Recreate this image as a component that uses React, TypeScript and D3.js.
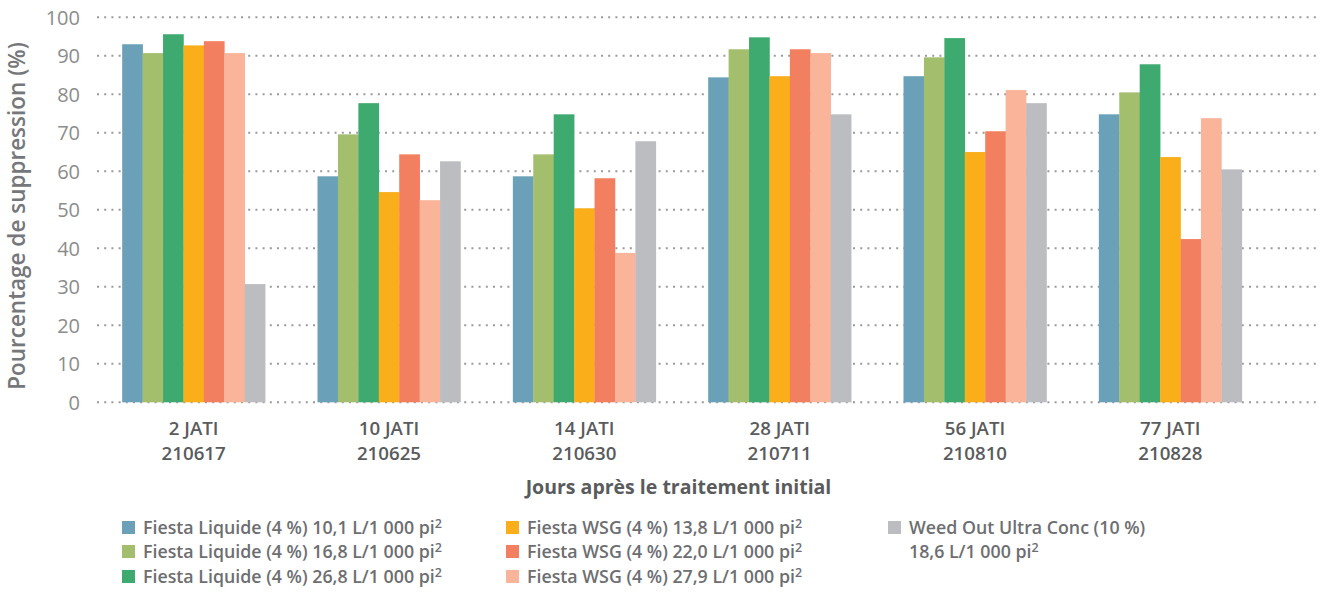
import React from "react";
import { scaleBand, scaleLinear, range } from "d3";

const days = ["2 JATI", "10 JATI", "14 JATI", "28 JATI", "56 JATI", "77 JATI"];
const dates = ["210617", "210625", "210630", "210711", "210810", "210828"];

const seriesNames = [
  "Fiesta Liquide (4 %) 10,1 L/1 000 pi",
  "Fiesta Liquide (4 %) 16,8 L/1 000 pi",
  "Fiesta Liquide (4 %) 26,8 L/1 000 pi",
  "Fiesta WSG (4 %) 13,8 L/1 000 pi",
  "Fiesta WSG (4 %) 22,0 L/1 000 pi",
  "Fiesta WSG (4 %) 27,9 L/1 000 pi",
  "Weed Out Ultra Conc (10 %)",
];
const colors = ["#6aa0b8", "#a3bf6e", "#3faa6f", "#f9ae1a", "#f37f61", "#f9b49a", "#bcbdc0"];

// one array per series, in the order of days
const liquide10 = [93.0, 58.7, 58.7, 84.4, 84.7, 74.8];
const liquide16 = [90.7, 69.6, 64.4, 91.7, 89.6, 80.5];
const liquide26 = [95.6, 77.7, 74.8, 94.8, 94.6, 87.8];
const wsg13 = [92.7, 54.6, 50.4, 84.7, 65.0, 63.7];
const wsg22 = [93.8, 64.4, 58.2, 91.7, 70.4, 42.4];
const wsg27 = [90.7, 52.5, 38.8, 90.7, 81.1, 73.8];
const weedOut = [30.7, 62.6, 67.8, 74.8, 77.7, 60.5];
const series = [liquide10, liquide16, liquide26, wsg13, wsg22, wsg27, weedOut];

const yTicks = [0, 10, 20, 30, 40, 50, 60, 70, 80, 90, 100];

const W = 1323;
const H = 602;
const FONT = "'Open Sans', 'Noto Sans', sans-serif";

export default function App() {
  const x = scaleBand<string>().domain(days).range([96, 1268]).paddingInner(0.268).paddingOuter(0.134);
  const inner = scaleBand<number>().domain(range(series.length)).range([0, x.bandwidth()]);
  const y = scaleLinear().domain([0, 100]).range([402.3, 17.3]);

  // legend layout
  const legendCols = [
    { sw: 122, items: [0, 1, 2] },
    { sw: 506, items: [3, 4, 5] },
    { sw: 888, items: [6] },
  ];
  const rowY = [528, 552, 577];

  return (
    <svg width={W} height={H} style={{ position: "absolute", left: 0, top: 0 }} fontFamily={FONT}>
      {/* dotted grid */}
      {yTicks.map((t) => (
        <g key={t}>
          <line x1={97} x2={1316} y1={y(t)} y2={y(t)} stroke="#9a9a9a" strokeWidth={2} strokeDasharray="2 5.2" />
          <text x={80} y={y(t)} dy="0.36em" textAnchor="end" fontSize={20} fill="#8c8c8c">
            {t}
          </text>
        </g>
      ))}

      {/* bars */}
      {days.map((d, i) => (
        <g key={d} transform={`translate(${x(d)},0)`}>
          {series.map((s, j) => (
            <rect
              key={j}
              x={inner(j)}
              y={y(s[i])}
              width={inner.bandwidth() + 0.3}
              height={y(0) - y(s[i])}
              fill={colors[j]}
            />
          ))}
        </g>
      ))}

      {/* x labels */}
      {days.map((d, i) => (
        <g key={d} transform={`translate(${(x(d) ?? 0) + x.bandwidth() / 2},0)`}>
          <text y={428} dy="0.35em" textAnchor="middle" fontSize={18.7} fontWeight={600} fill="#5a5b5d">
            {d}
          </text>
          <text y={453} dy="0.35em" textAnchor="middle" fontSize={18.7} fontWeight={600} fill="#5a5b5d">
            {dates[i]}
          </text>
        </g>
      ))}

      <text x={678.5} y={487} dy="0.35em" textAnchor="middle" fontSize={19.5} fontWeight={700} fill="#5a5b5d">
        Jours après le traitement initial
      </text>

      <text
        transform={`translate(17,216) rotate(-90)`}
        dy="0.35em"
        textAnchor="middle"
        fontSize={22.5}
        fontWeight={600}
        fill="#76777a"
      >
        Pourcentage de suppression (%)
      </text>

      {/* legend */}
      {legendCols.map((c) =>
        c.items.map((k, ri) => (
          <g key={k} transform={`translate(${c.sw},${rowY[ri]})`}>
            <rect x={0} y={-7} width={13} height={13} fill={colors[k]} />
            <text x={21} dy="0.35em" fontSize={17.8} fontWeight={600} fill="#6d6e71">
              {seriesNames[k]}
              {k < 6 ? (
                <tspan dy="-0.5em" fontSize={12.5}>
                  2
                </tspan>
              ) : null}
            </text>
          </g>
        ))
      )}
      <text x={909} y={552} dy="0.35em" fontSize={17.8} fontWeight={600} fill="#6d6e71">
        18,6 L/1 000 pi
        <tspan dy="-0.5em" fontSize={12.5}>
          2
        </tspan>
      </text>
    </svg>
  );
}
